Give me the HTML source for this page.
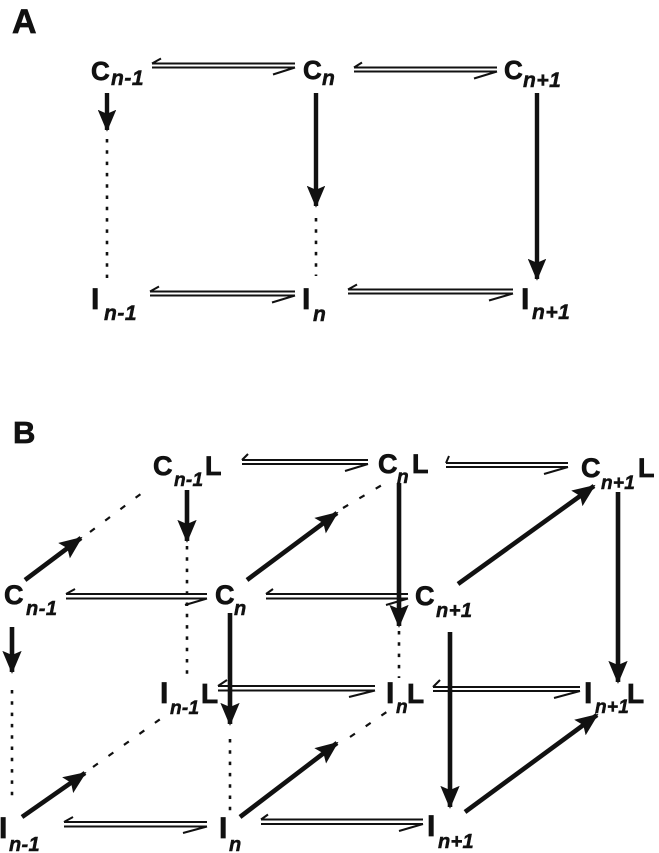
<!DOCTYPE html>
<html><head><meta charset="utf-8">
<style>
html,body{margin:0;padding:0;background:#fff;}
svg{display:block;}
.m{font-family:"Liberation Sans",Arial,sans-serif;font-weight:bold;fill:#111;stroke:#111;stroke-width:0.7;}
.s{font-family:"Liberation Sans",Arial,sans-serif;font-weight:bold;font-style:italic;fill:#111;stroke:#111;stroke-width:0.5;}
</style></head>
<body>
<svg width="659" height="853" viewBox="0 0 659 853" xmlns="http://www.w3.org/2000/svg">
<rect width="659" height="853" fill="#fff"/>
<defs>
<marker id="ah" markerWidth="5" markerHeight="4.2" refX="4.6" refY="2.1" orient="auto" markerUnits="strokeWidth">
<path d="M0,0 L5,2.1 L0,4.2 L0.9,2.1 Z" fill="#111"/>
</marker>
</defs>

<!-- ===== Panel A ===== -->
<text class="m" x="12" y="33" font-size="34">A</text>

<g stroke="#111" fill="none" stroke-width="2">
 <line x1="152" y1="63.5" x2="295" y2="63.5"/><line x1="152" y1="67.5" x2="295" y2="67.5"/>
 <line x1="152" y1="63.5" x2="161" y2="58.5"/><line x1="295" y1="67.5" x2="273" y2="74.5"/>

 <line x1="354" y1="67.5" x2="497" y2="67.5"/><line x1="354" y1="71.5" x2="497" y2="71.5"/>
 <line x1="354" y1="67.5" x2="362" y2="62.5"/><line x1="497" y1="71.5" x2="474" y2="78.5"/>

 <line x1="150" y1="291.5" x2="295" y2="291.5"/><line x1="150" y1="295.5" x2="295" y2="295.5"/>
 <line x1="150" y1="291.5" x2="159" y2="286.5"/><line x1="295" y1="295.5" x2="272" y2="302.5"/>

 <line x1="348" y1="289.5" x2="513" y2="289.5"/><line x1="348" y1="293.5" x2="513" y2="293.5"/>
 <line x1="348" y1="289.5" x2="357" y2="284.5"/><line x1="513" y1="293.5" x2="489" y2="300.5"/>
</g>

<g stroke="#111" stroke-width="4.4" fill="none" marker-end="url(#ah)">
 <line x1="107" y1="93" x2="107" y2="130"/>
 <line x1="316" y1="93" x2="316" y2="206"/>
 <line x1="537" y1="93" x2="537" y2="279"/>
</g>
<g stroke="#111" stroke-width="2.6" fill="none" stroke-dasharray="3.5 7.8">
 <line x1="107" y1="139" x2="107" y2="278"/>
 <line x1="316" y1="218" x2="316" y2="276"/>
</g>

<text class="m" x="91" y="80" font-size="26">C</text><text class="s" x="111" y="85" font-size="21" letter-spacing="0.5">n-1</text>
<text class="m" x="303" y="79" font-size="26">C</text><text class="s" x="322" y="85" font-size="21">n</text>
<text class="m" x="504" y="79" font-size="26">C</text><text class="s" x="523" y="87" font-size="21" letter-spacing="0.5">n+1</text>

<text class="m" x="91" y="309" font-size="30">I</text><text class="s" x="104" y="320" font-size="21" letter-spacing="0.5">n-1</text>
<text class="m" x="302" y="309" font-size="30">I</text><text class="s" x="313" y="321" font-size="21">n</text>
<text class="m" x="521" y="309" font-size="30">I</text><text class="s" x="532" y="319" font-size="21" letter-spacing="0.5">n+1</text>

<!-- ===== Panel B ===== -->
<text class="m" x="13" y="443" font-size="31">B</text>

<g stroke="#111" fill="none" stroke-width="2">
 <line x1="242" y1="460" x2="368" y2="460"/><line x1="242" y1="464" x2="368" y2="464"/>
 <line x1="242" y1="460" x2="248" y2="454"/><line x1="368" y1="464" x2="345" y2="471"/>

 <line x1="446" y1="463" x2="568" y2="463"/><line x1="446" y1="467" x2="568" y2="467"/>
 <line x1="446" y1="463" x2="449" y2="456"/><line x1="568" y1="467" x2="544" y2="474"/>

 <line x1="66" y1="594" x2="207" y2="594"/><line x1="66" y1="598.5" x2="207" y2="598.5"/>
 <line x1="66" y1="594" x2="75" y2="589"/><line x1="207" y1="598.5" x2="185" y2="605"/>

 <line x1="266" y1="594" x2="408" y2="594"/><line x1="266" y1="598.5" x2="408" y2="598.5"/>
 <line x1="266" y1="594" x2="273" y2="589"/><line x1="408" y1="598.5" x2="386" y2="605"/>

 <line x1="218" y1="686" x2="375" y2="686"/><line x1="218" y1="690.5" x2="375" y2="690.5"/>
 <line x1="218" y1="686" x2="227" y2="680"/><line x1="375" y1="690.5" x2="349" y2="697"/>

 <line x1="433" y1="687" x2="580" y2="687"/><line x1="433" y1="691" x2="580" y2="691"/>
 <line x1="433" y1="687" x2="440" y2="680"/><line x1="580" y1="691" x2="554" y2="698"/>

 <line x1="64" y1="822" x2="207" y2="822"/><line x1="64" y1="826.5" x2="207" y2="826.5"/>
 <line x1="64" y1="822" x2="73" y2="817"/><line x1="207" y1="826.5" x2="183" y2="833"/>

 <line x1="261" y1="819.5" x2="423" y2="819.5"/><line x1="261" y1="824" x2="423" y2="824"/>
 <line x1="261" y1="819.5" x2="268" y2="814.5"/><line x1="423" y1="824" x2="399" y2="831"/>
</g>

<g stroke="#111" stroke-width="2.6" fill="none" stroke-dasharray="3.5 7.8">
 <line x1="187" y1="546" x2="187" y2="680"/>
 <line x1="399" y1="631" x2="399" y2="678"/>
 <line x1="12" y1="690" x2="12" y2="797"/>
 <line x1="230" y1="739" x2="230" y2="815"/>
</g>
<g stroke="#111" stroke-width="2.2" fill="none" stroke-dasharray="6 13">
 <line x1="90" y1="532" x2="150" y2="487"/>
 <line x1="343" y1="508" x2="387" y2="482"/>
 <line x1="93" y1="767" x2="166" y2="715"/>
 <line x1="350" y1="737" x2="391" y2="709"/>
</g>

<g stroke="#111" stroke-width="4.6" fill="none" marker-end="url(#ah)">
 <line x1="187" y1="490" x2="187" y2="541"/>
 <line x1="399" y1="483" x2="399" y2="626"/>
 <line x1="618" y1="492" x2="618" y2="682"/>
 <line x1="12" y1="627" x2="12" y2="672"/>
 <line x1="230" y1="613" x2="230" y2="724"/>
 <line x1="450" y1="632" x2="450" y2="807"/>
 <line x1="25" y1="580" x2="81" y2="538"/>
 <line x1="247" y1="580" x2="337" y2="513"/>
 <line x1="458" y1="584" x2="594" y2="486"/>
 <line x1="22" y1="817" x2="85" y2="773"/>
 <line x1="240" y1="817" x2="337" y2="743"/>
 <line x1="465" y1="812" x2="597" y2="715"/>
</g>

<text class="m" x="153" y="475" font-size="27">C</text><text class="s" x="174" y="486" font-size="19" letter-spacing="0.3">n-1</text><text class="m" x="205" y="475" font-size="27">L</text>
<text class="m" x="378" y="473" font-size="27">C</text><text class="s" x="397" y="483" font-size="19">n</text><text class="m" x="412" y="473" font-size="27">L</text>
<text class="m" x="581" y="477" font-size="27">C</text><text class="s" x="601" y="489" font-size="19" letter-spacing="0.3">n+1</text><text class="m" x="638" y="477" font-size="27">L</text>

<text class="m" x="4" y="604" font-size="27">C</text><text class="s" x="26" y="615" font-size="20" letter-spacing="0.5">n-1</text>
<text class="m" x="215" y="604" font-size="27">C</text><text class="s" x="234" y="615" font-size="20">n</text>
<text class="m" x="415" y="605" font-size="27">C</text><text class="s" x="436" y="617" font-size="20" letter-spacing="0.5">n+1</text>

<text class="m" x="160" y="703" font-size="30">I</text><text class="s" x="170" y="714" font-size="19" letter-spacing="0.3">n-1</text><text class="m" x="201" y="703" font-size="28">L</text>
<text class="m" x="386" y="703" font-size="30">I</text><text class="s" x="396" y="713" font-size="19">n</text><text class="m" x="407" y="703" font-size="28">L</text>
<text class="m" x="584" y="703" font-size="30">I</text><text class="s" x="595" y="713" font-size="19" letter-spacing="0.3">n+1</text><text class="m" x="627" y="703" font-size="28">L</text>

<text class="m" x="-1" y="838" font-size="30">I</text><text class="s" x="9" y="851" font-size="20" letter-spacing="0.3">n-1</text>
<text class="m" x="219" y="838" font-size="30">I</text><text class="s" x="229" y="851" font-size="20">n</text>
<text class="m" x="427" y="836" font-size="30">I</text><text class="s" x="438" y="848" font-size="20" letter-spacing="0.3">n+1</text>
</svg>
</body></html>
